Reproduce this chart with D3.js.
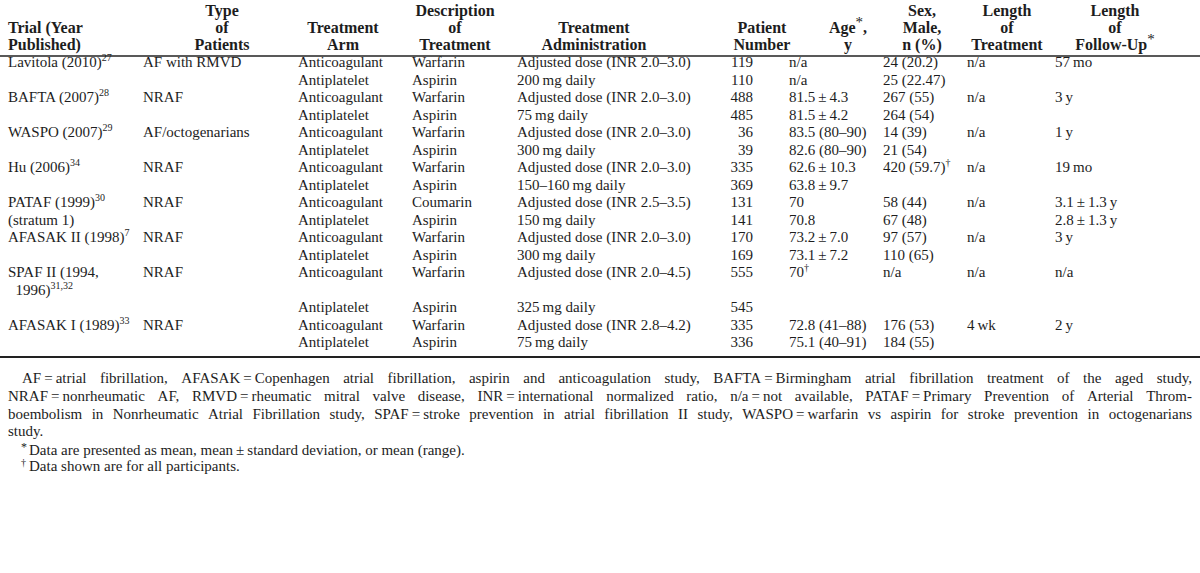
<!DOCTYPE html>
<html><head><meta charset="utf-8">
<script src="https://cdn.jsdelivr.net/npm/d3@7"></script>
<style>
body{margin:0;background:#fff}
svg{display:block}
text{font-family:"Liberation Serif","Times New Roman",serif;fill:#1d1d1d}
</style>
</head><body>
<svg id="c" width="1200" height="573"></svg>
<script>
// ---- data ----
const headers = [
  ["Trial (Year", "Published)"],
  ["Type", "of", "Patients"],
  ["Treatment", "Arm"],
  ["Description", "of", "Treatment"],
  ["Treatment", "Administration"],
  ["Patient", "Number"],
  ["Age^{*},", "y"],
  ["Sex,", "Male,", "n (%)"],
  ["Length", "of", "Treatment"],
  ["Length", "of", "Follow-Up^{*}"]
];
const trialLabels = [
  ["Lavitola (2010)^{27}"],
  ["BAFTA (2007)^{28}"],
  ["WASPO (2007)^{29}"],
  ["Hu (2006)^{34}"],
  ["PATAF (1999)^{30}", "(stratum 1)"],
  ["AFASAK II (1998)^{7}"],
  ["SPAF II (1994,", "  1996)^{31,32}"],
  ["AFASAK I (1989)^{33}"]
];
const trialTypes = ["AF with RMVD", "NRAF", "AF/octogenarians", "NRAF", "NRAF", "NRAF", "NRAF", "NRAF"];
const trialTreatLength = ["n/a", "n/a", "n/a", "n/a", "n/a", "n/a", "n/a", "4\u2009wk"];
const armTrial = [0,0,1,1,2,2,3,3,4,4,5,5,6,6,7,7];
const armName = ["Anticoagulant","Antiplatelet","Anticoagulant","Antiplatelet","Anticoagulant","Antiplatelet","Anticoagulant","Antiplatelet","Anticoagulant","Antiplatelet","Anticoagulant","Antiplatelet","Anticoagulant","Antiplatelet","Anticoagulant","Antiplatelet"];
const armDrug = ["Warfarin","Aspirin","Warfarin","Aspirin","Warfarin","Aspirin","Warfarin","Aspirin","Coumarin","Aspirin","Warfarin","Aspirin","Warfarin","Aspirin","Warfarin","Aspirin"];
const armAdmin = ["Adjusted dose (INR 2.0\u20133.0)","200\u2009mg daily","Adjusted dose (INR 2.0\u20133.0)","75\u2009mg daily","Adjusted dose (INR 2.0\u20133.0)","300\u2009mg daily","Adjusted dose (INR 2.0\u20133.0)","150\u2013160\u2009mg daily","Adjusted dose (INR 2.5\u20133.5)","150\u2009mg daily","Adjusted dose (INR 2.0\u20133.0)","300\u2009mg daily","Adjusted dose (INR 2.0\u20134.5)","325\u2009mg daily","Adjusted dose (INR 2.8\u20134.2)","75\u2009mg daily"];
const armPatients = [119,110,488,485,36,39,335,369,131,141,170,169,555,545,335,336];
const armAge = ["n/a","n/a","81.5\u2009\u00b1\u20094.3","81.5\u2009\u00b1\u20094.2","83.5 (80\u201390)","82.6 (80\u201390)","62.6\u2009\u00b1\u200910.3","63.8\u2009\u00b1\u20099.7","70","70.8","73.2\u2009\u00b1\u20097.0","73.1\u2009\u00b1\u20097.2","70^{\u2020}","","72.8 (41\u201388)","75.1 (40\u201391)"];
const armSex = ["24 (20.2)","25 (22.47)","267 (55)","264 (54)","14 (39)","21 (54)","420 (59.7)^{\u2020}","","58 (44)","67 (48)","97 (57)","110 (65)","n/a","","176 (53)","184 (55)"];
const armFollowUp = ["57\u2009mo","","3\u2009y","","1\u2009y","","19\u2009mo","","3.1\u2009\u00b1\u20091.3\u2009y","2.8\u2009\u00b1\u20091.3\u2009y","3\u2009y","","n/a","","2\u2009y",""];
const armLines = [1,1,1,1,1,1,1,1,1,1,1,1,2,1,1,1];
const footnoteParagraph = [
  "AF\u2009=\u2009atrial fibrillation, AFASAK\u2009=\u2009Copenhagen atrial fibrillation, aspirin and anticoagulation study, BAFTA\u2009=\u2009Birmingham atrial fibrillation treatment of the aged study,",
  "NRAF\u2009=\u2009nonrheumatic AF, RMVD\u2009=\u2009rheumatic mitral valve disease, INR\u2009=\u2009international normalized ratio, n/a\u2009=\u2009not available, PATAF\u2009=\u2009Primary Prevention of Arterial Throm-",
  "boembolism in Nonrheumatic Atrial Fibrillation study, SPAF\u2009=\u2009stroke prevention in atrial fibrillation II study, WASPO\u2009=\u2009warfarin vs aspirin for stroke prevention in octogenarians",
  "study."
];
const footnoteMarks = ["*", "\u2020"];
const footnoteNotes = ["Data are presented as mean, mean\u2009\u00b1\u2009standard deviation, or mean (range).", "Data shown are for all participants."];

// ---- layout ----
const W = 1200, H = 573;
const FS = 15, HFS = 16;
const svg = d3.select("#c");

const colLeft = [8, 143, 298, 412, 517, 753, 789, 883, 967, 1055];
const colHead = [8, 222, 343, 455, 594, 762, 848, 922, 1007, 1115];

function rich(sel, str, supSize, supDy) {
  const parts = str.split(/(\^\{[^}]*\})/).filter(s => s.length);
  let raised = false;
  parts.forEach(p => {
    if (p.startsWith("^{")) {
      sel.append("tspan").attr("font-size", supSize).attr("font-weight", "normal").attr("dy", -supDy).text(p.slice(2, -1));
      raised = true;
    } else {
      const t = sel.append("tspan").text(p);
      if (raised) { t.attr("dy", supDy); raised = false; }
    }
  });
}

// header
const headBase = d3.scaleLinear().domain([0, 2]).range([16, 50]);
headers.forEach((lines, ci) => {
  const offset = 3 - lines.length;
  lines.forEach((ln, li) => {
    const t = svg.append("text")
      .attr("x", colHead[ci]).attr("y", headBase(li + offset))
      .attr("font-size", HFS).attr("font-weight", "bold")
      .attr("text-anchor", ci === 0 ? "start" : "middle")
      .attr("xml:space", "preserve");
    rich(t, ln, 15, 6);
  });
});

// rules
svg.append("line").attr("x1", 0).attr("x2", W).attr("y1", 56).attr("y2", 56).attr("stroke", "#222").attr("stroke-width", 1.3);
svg.append("line").attr("x1", 0).attr("x2", W).attr("y1", 357).attr("y2", 357).attr("stroke", "#222").attr("stroke-width", 2.2);

// body
const totalLines = d3.sum(armLines);
const yLine = d3.scaleLinear().domain([0, totalLines - 1]).range([67, 347]);
const startLine = [];
let acc = 0;
armLines.forEach((n) => { startLine.push(acc); acc += n; });

function cell(x, y, str, anchor) {
  if (!str && str !== 0) return;
  const t = svg.append("text").attr("x", x).attr("y", y).attr("font-size", FS)
    .attr("text-anchor", anchor || "start").attr("xml:space", "preserve");
  rich(t, String(str), 10, 6);
}

trialLabels.forEach((lines, ti) => {
  const first = armTrial.indexOf(ti);
  const l0 = startLine[first];
  lines.forEach((ln, k) => cell(colLeft[0], yLine(l0 + k), ln));
  cell(colLeft[1], yLine(l0), trialTypes[ti]);
  cell(colLeft[8], yLine(l0), trialTreatLength[ti]);
});

armName.forEach((a, i) => {
  const y = yLine(startLine[i]);
  cell(colLeft[2], y, a);
  cell(colLeft[3], y, armDrug[i]);
  cell(colLeft[4], y, armAdmin[i]);
  cell(colLeft[5], y, armPatients[i], "end");
  cell(colLeft[6], y, armAge[i]);
  cell(colLeft[7], y, armSex[i]);
  cell(colLeft[9], y, armFollowUp[i]);
});

// footnote paragraph (justified)
const footBase = [383, 401, 419, 436];
const paraLeft = [22, 8, 8, 8];
const paraRight = 1192;
footnoteParagraph.forEach((ln, i) => {
  const words = ln.split(" ");
  const justify = i < footnoteParagraph.length - 1;
  const g = svg.append("g");
  const ts = words.map(w => g.append("text").attr("y", footBase[i]).attr("font-size", FS).text(w));
  const widths = ts.map(t => t.node().getComputedTextLength());
  const total = d3.sum(widths);
  const gap = justify && words.length > 1 ? (paraRight - paraLeft[i] - total) / (words.length - 1) : FS * 0.25;
  let x = paraLeft[i];
  ts.forEach((t, k) => { t.attr("x", x); x += widths[k] + gap; });
});

const noteBase = [455, 471];
const markY = [451, 466];
const markSize = [12, 10];
footnoteNotes.forEach((n, i) => {
  svg.append("text").attr("x", 21).attr("y", markY[i]).attr("font-size", markSize[i]).text(footnoteMarks[i]);
  svg.append("text").attr("x", 29).attr("y", noteBase[i]).attr("font-size", FS).text(n);
});
</script>
</body></html>
